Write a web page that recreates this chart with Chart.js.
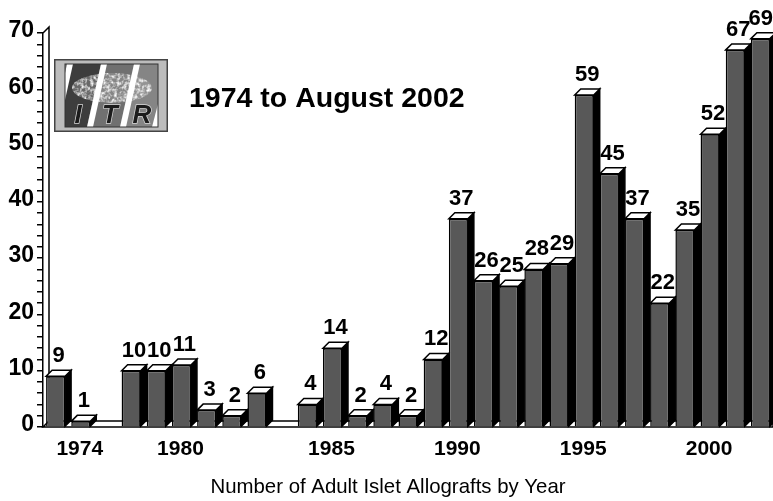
<!DOCTYPE html>
<html>
<head>
<meta charset="utf-8">
<title>Adult Islet Allografts by Year</title>
<script src="https://cdn.jsdelivr.net/npm/chart.js@4/dist/chart.umd.min.js"></script>
<style>
  html, body { margin: 0; padding: 0; background: #fff; overflow: hidden; }
  #wrap { position: relative; width: 773px; height: 501px; }
  canvas { display: block; }
  #logo { position: absolute; left: 54px; top: 59px; }
</style>
</head>
<body>
<div id="wrap">
  <canvas id="myChart" width="773" height="501"></canvas>
  <!-- ITR registry badge -->
  <svg id="logo" width="114" height="73" viewBox="0 0 114 73">
    <defs>
      <filter id="soft"><feGaussianBlur stdDeviation="0.35"/></filter>
      <filter id="mottle" x="0" y="0" width="100%" height="100%">
        <feTurbulence type="fractalNoise" baseFrequency="0.3" numOctaves="2" seed="4"/>
        <feColorMatrix type="matrix" values="0 0 0 0 1  0 0 0 0 1  0 0 0 0 1  2.4 0 0 0 -0.95"/>
        <feComposite in2="SourceGraphic" operator="in"/>
      </filter>
      <clipPath id="inner"><rect x="11" y="5" width="93" height="63"/></clipPath>
    </defs>
    <rect x="0.75" y="0.75" width="112.5" height="71.5" fill="#bcbcbc" stroke="#444" stroke-width="1.5"/>
    <g clip-path="url(#inner)" filter="url(#soft)">
      <rect x="11" y="5" width="93" height="63" fill="#777"/>
      <polygon points="13,5 47,5 33,68 0,68" fill="#3c3c3c"/>
      <polygon points="47,5 80,5 66,68 33,68" fill="#6f6f6f"/>
      <polygon points="80,5 104,5 104,68 66,68" fill="#858585"/>
      <ellipse cx="58" cy="29" rx="40" ry="15" fill="#aaa" fill-opacity="0.4"/>
      <ellipse cx="58" cy="29" rx="40" ry="15" fill="#fff" filter="url(#mottle)"/>
      <polygon points="13,5 19,5 5,68 -1,68" fill="#fff"/>
      <polygon points="47,5 53,5 39,68 33,68" fill="#fff"/>
      <polygon points="80,5 86,5 72,68 66,68" fill="#fff"/>
      <polygon points="104,45 104,68 98,68" fill="#fff"/>
      <g font-family="'Liberation Sans', Arial, sans-serif" font-weight="bold" font-style="italic" font-size="26"
         fill="#1c1c1c" stroke="#d8d8d8" stroke-width="1.4" paint-order="stroke" text-anchor="middle">
        <text x="24" y="64">I</text>
        <text x="56" y="64">T</text>
        <text x="88" y="64">R</text>
      </g>
    </g>
    <rect x="11" y="5" width="93" height="63" fill="none" stroke="#333" stroke-width="1"/>
  </svg>
</div>

<script>
/* global Chart */

// one slot per bar; the axis only names a few of them
const slotLabels = ['', '1974', '', '', '', '1980', '', '', '', '', '', '1985', '', '', '', '',
  '1990', '', '', '', '', '1995', '', '', '', '', '2000', '', ''];
const graftCounts = [9, 1, null, 10, 10, 11, 3, 2, 6, null, 4, 14, 2, 4, 2, 12,
  37, 26, 25, 28, 29, 59, 45, 37, 22, 35, 52, 67, 69];
const yMax = 70;
const yStep = 2;
const yLabelStep = 10;

const chartTitle = '1974 to August 2002';
const xTitle = 'Number of Adult Islet Allografts by Year';

const FONT = "'Liberation Sans', Arial, sans-serif";
const DEPTH = 6;

// floor, back wall, and the top and side faces of every bar
const depthPlugin = {
  id: 'depth',
  beforeDatasetsDraw(chart) {
    const ctx = chart.ctx;
    const { left, right, top, bottom } = chart.chartArea;
    ctx.save();
    ctx.lineWidth = 1.5;
    ctx.strokeStyle = '#000';

    ctx.beginPath();
    ctx.moveTo(left, bottom);
    ctx.lineTo(left + DEPTH, bottom - DEPTH);
    ctx.lineTo(right, bottom - DEPTH);
    ctx.lineTo(right, bottom);
    ctx.closePath();
    ctx.fillStyle = '#fff';
    ctx.fill();
    ctx.stroke();

    ctx.beginPath();
    ctx.moveTo(left + DEPTH, bottom - DEPTH);
    ctx.lineTo(left + DEPTH, top - DEPTH);
    ctx.lineTo(left, top);
    ctx.stroke();

    chart.getDatasetMeta(0).data.forEach((bar, i) => {
      if (graftCounts[i] === null) return;
      const l = bar.x - bar.width / 2;
      const r = bar.x + bar.width / 2;

      ctx.beginPath();
      ctx.moveTo(r, bar.y);
      ctx.lineTo(r + DEPTH, bar.y - DEPTH);
      ctx.lineTo(r + DEPTH, bar.base - DEPTH);
      ctx.lineTo(r, bar.base);
      ctx.closePath();
      ctx.fillStyle = '#000';
      ctx.fill();
      ctx.stroke();

      ctx.beginPath();
      ctx.moveTo(l, bar.y);
      ctx.lineTo(l + DEPTH, bar.y - DEPTH);
      ctx.lineTo(r + DEPTH, bar.y - DEPTH);
      ctx.lineTo(r, bar.y);
      ctx.closePath();
      ctx.fillStyle = '#fff';
      ctx.fill();
      ctx.stroke();
    });
    ctx.restore();
  },
  afterDraw(chart) {
    const ctx = chart.ctx;
    ctx.save();
    ctx.fillStyle = '#000';
    ctx.textBaseline = 'alphabetic';

    // counts above the bars
    ctx.font = 'bold 22px ' + FONT;
    ctx.textAlign = 'center';
    chart.getDatasetMeta(0).data.forEach((bar, i) => {
      if (graftCounts[i] === null) return;
      const text = String(graftCounts[i]);
      const half = ctx.measureText(text).width / 2;
      const x = Math.min(bar.x + 3, chart.width - half);
      ctx.fillText(text, x, bar.y - DEPTH - 8);
    });

    ctx.font = 'bold 28.5px ' + FONT;
    ctx.textAlign = 'left';
    ctx.fillText(chartTitle, 189, 107);

    ctx.font = '20.4px ' + FONT;
    ctx.textAlign = 'center';
    ctx.fillText(xTitle, 388, 493);
    ctx.restore();
  }
};

new Chart(document.getElementById('myChart'), {
  type: 'bar',
  plugins: [depthPlugin],
  data: {
    labels: slotLabels,
    datasets: [{
      label: 'Adult islet allografts',
      data: graftCounts,
      backgroundColor: '#585858',
      borderColor: '#000',
      borderWidth: 1.5,
      barPercentage: 0.755,
      categoryPercentage: 1
    }]
  },
  options: {
    responsive: false,
    animation: false,
    layout: { padding: { top: 33, left: 0, right: 0, bottom: 0 } },
    plugins: { legend: { display: false }, tooltip: { enabled: false } },
    scales: {
      x: {
        afterFit(scale) { scale.height = 74; },
        grid: { display: false },
        border: { display: false },
        ticks: {
          color: '#000',
          font: { family: FONT, size: 21, weight: 'bold' },
          autoSkip: false,
          maxRotation: 0,
          padding: 2,
          labelOffset: -1
        }
      },
      y: {
        min: 0,
        max: yMax,
        afterFit(scale) { scale.width = 43; },
        grid: { drawOnChartArea: false, color: '#000', lineWidth: 1.5, tickLength: 6 },
        border: { color: '#000', width: 1.5 },
        ticks: {
          stepSize: yStep,
          autoSkip: false,
          color: '#000',
          font: { family: FONT, size: 23, weight: 'bold' },
          padding: 3,
          labelOffset: -2,
          callback: (v) => (v % yLabelStep === 0 ? v : '')
        }
      }
    }
  }
});
</script>
</body>
</html>
